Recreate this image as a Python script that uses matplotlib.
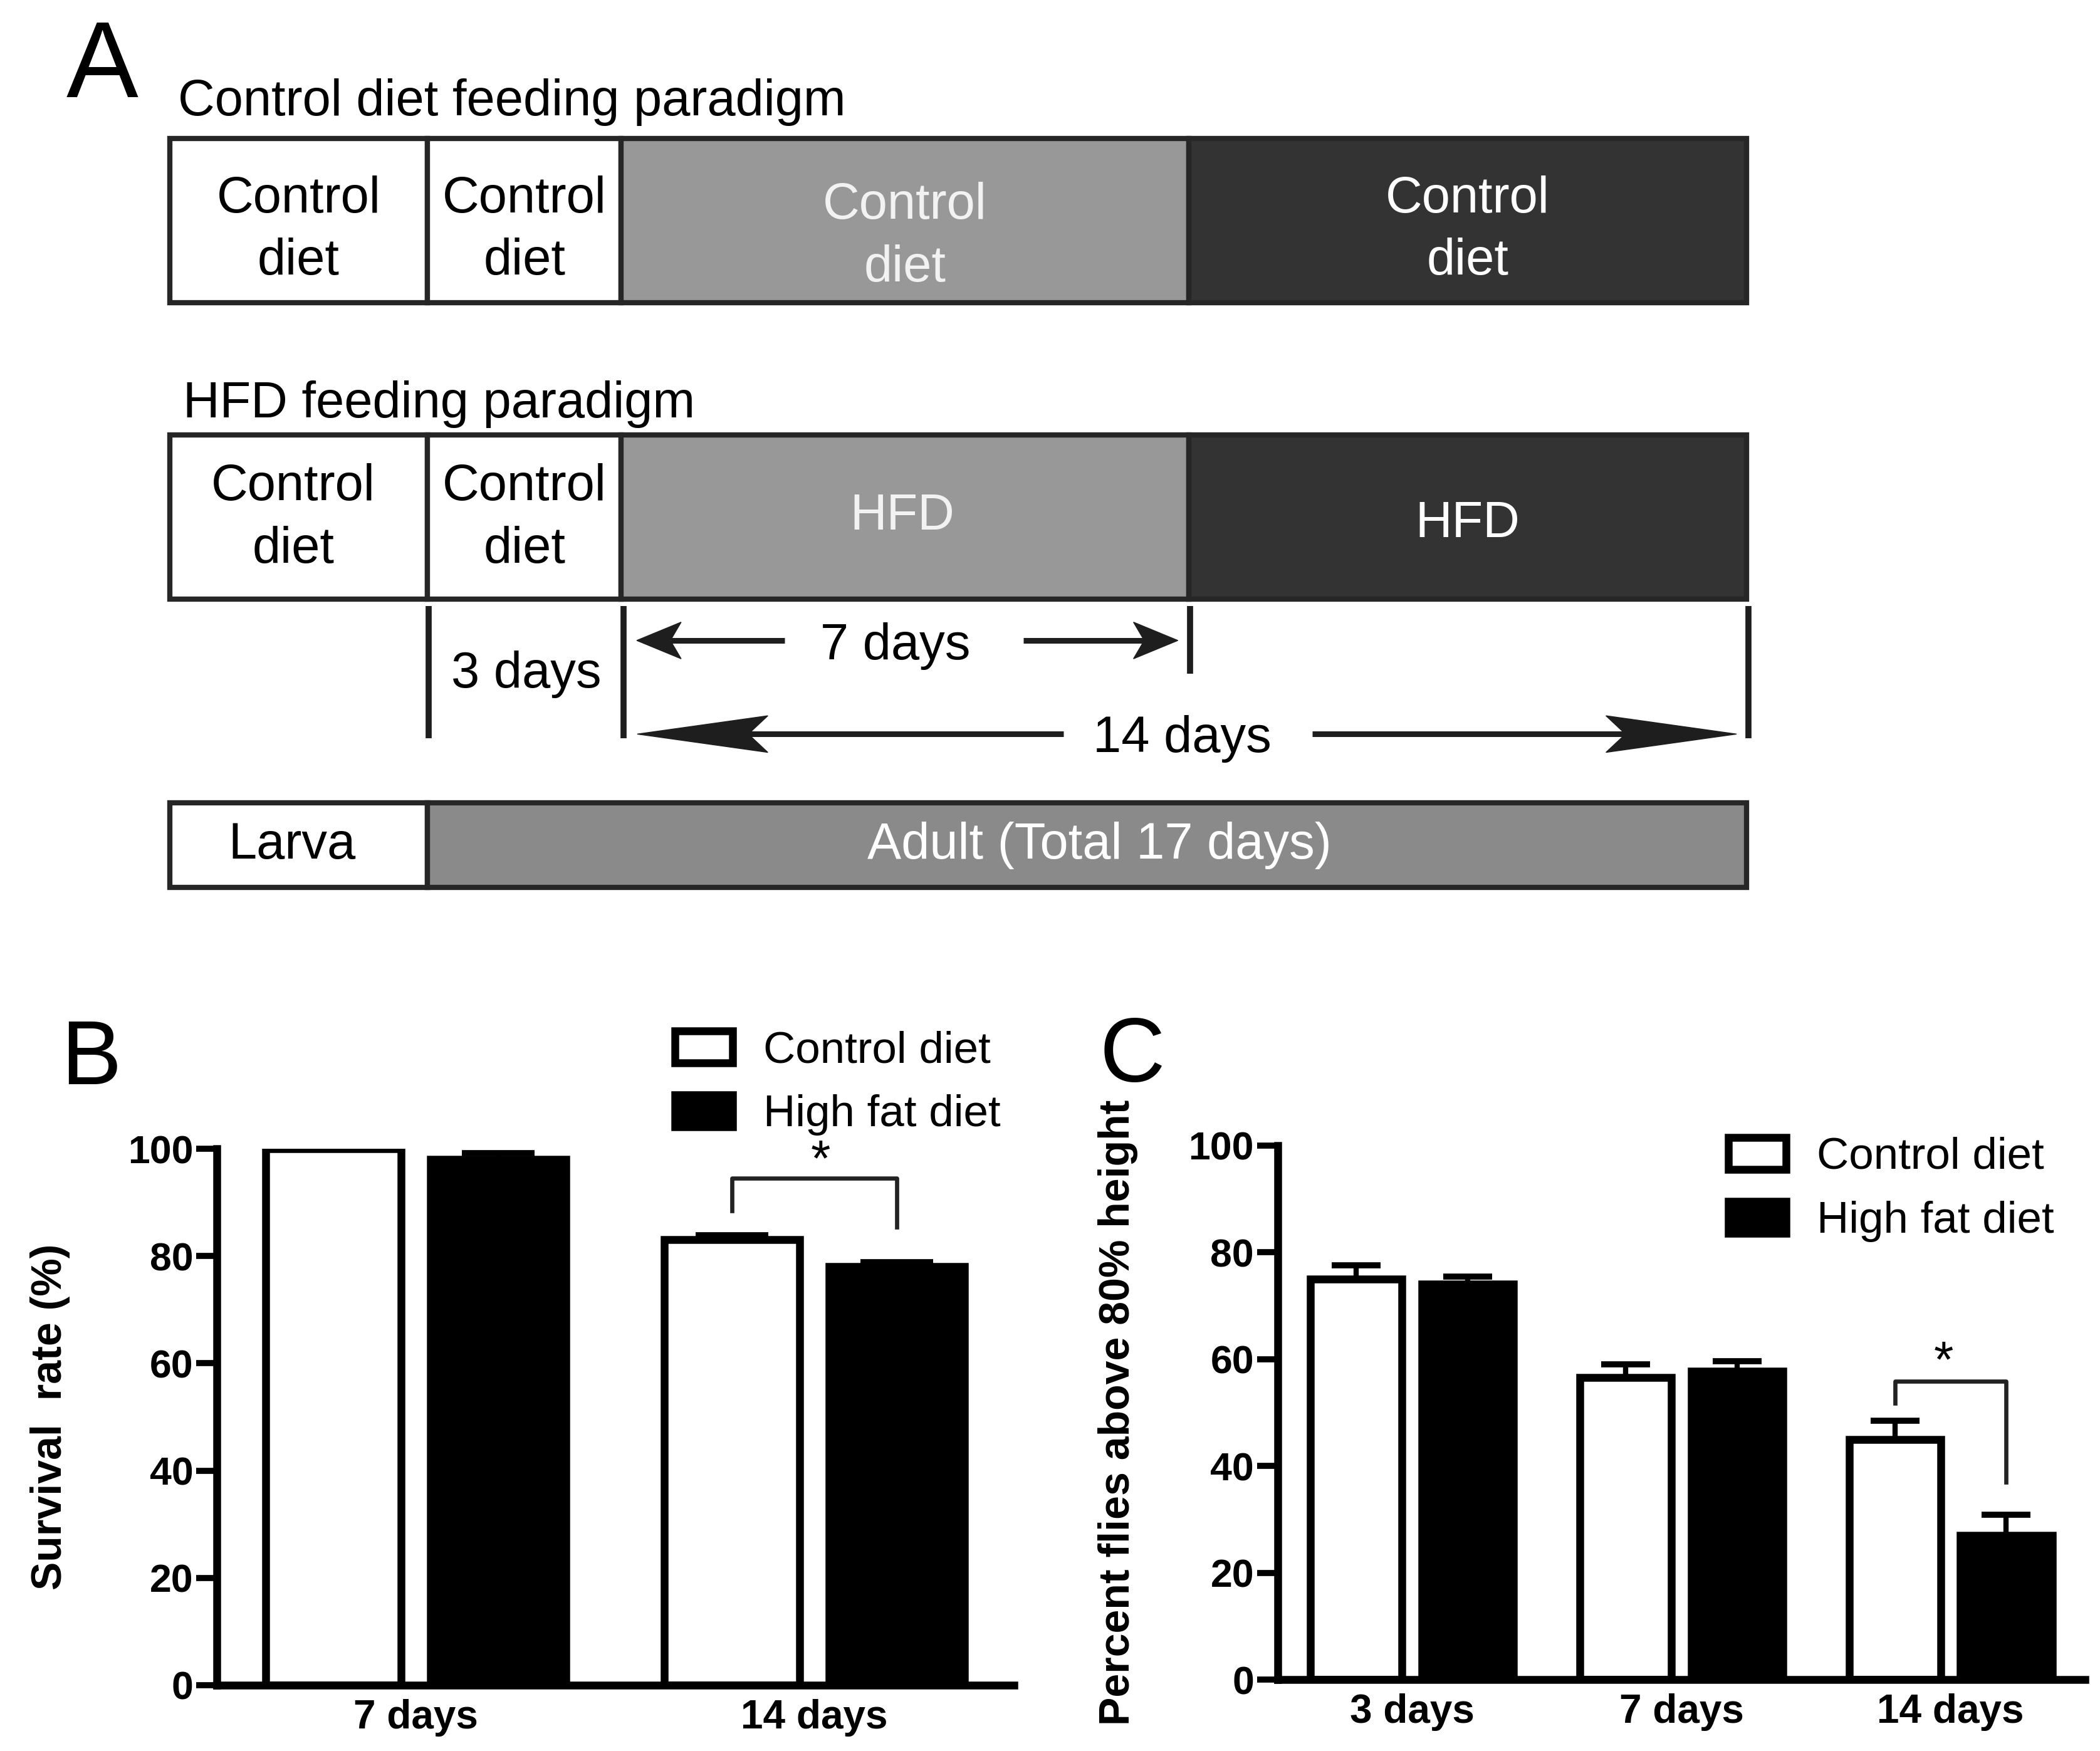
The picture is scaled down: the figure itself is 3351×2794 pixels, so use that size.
import matplotlib
matplotlib.use('Agg')
import matplotlib.pyplot as plt
from matplotlib.patches import Rectangle, Polygon
import numpy as np

plt.rcParams['font.family'] = ['Liberation Sans', 'DejaVu Sans']

# ---------------- data ----------------
# Panel B: survival rate (%)
b_categories = ['7 days', '14 days']
b_control = [100.0, 83.1]
b_control_err = [0.0, 0.8]
b_hfd = [98.1, 78.1]
b_hfd_err = [1.1, 0.8]

# Panel C: percent flies above 80% height
c_categories = ['3 days', '7 days', '14 days']
c_control = [75.0, 56.6, 44.9]
c_control_err = [2.6, 2.4, 3.6]
c_hfd = [74.1, 57.8, 27.0]
c_hfd_err = [1.4, 1.8, 3.9]

legend_labels = ['Control diet', 'High fat diet']
y_ticks = [0, 20, 40, 60, 80, 100]

# Panel A schematic texts
a_title_control = 'Control diet feeding paradigm'
a_title_hfd = 'HFD feeding paradigm'
a_row_control = ['Control\ndiet', 'Control\ndiet', 'Control\ndiet', 'Control\ndiet']
a_row_hfd = ['Control\ndiet', 'Control\ndiet', 'HFD', 'HFD']
a_stage_labels = ['Larva', 'Adult (Total 17 days)']
a_duration_labels = ['3 days', '7 days', '14 days']

# ---------------- layout (reference pixel grid 1560 x 1300) ----------------
W, H = 1560.0, 1300.0
seg_edges = [126, 317.5, 461.5, 883, 1297.5]
seg_colors = ['white', 'white', '#989898', '#333333']
seg_text_colors = ['black', 'black', '#f2f2f2', 'white']
row1_y = (103, 224.7)
row2_y = (323, 444.7)
row1_dy = [40, 40, 45, 40]
row2_dy = [34, 34, 9.5, 15]
row2_dx = [-4, 0, -2, 0]
stage_y = (596, 659)
stage_edges = [126, 317.5, 1297.5]
stage_dx = [-5, 9]
stage_colors = ['white', '#8a8a8a']
stage_text_colors = ['black', 'white']
EDGE = '#262626'

fig = plt.figure(figsize=(33.51, 27.94), dpi=100)
fig.patch.set_facecolor('white')

ov = fig.add_axes([0, 0, 1, 1])
ov.set_xlim(0, W)
ov.set_ylim(H, 0)
ov.axis('off')

A_FS = 58.5


def draw_row(ytop, ybot, labels, dys, dxs):
    ymid = (ytop + ybot) / 2
    for i in range(4):
        x0, x1 = seg_edges[i], seg_edges[i + 1]
        ov.add_patch(Rectangle((x0, ytop), x1 - x0, ybot - ytop, facecolor=seg_colors[i],
                               edgecolor=EDGE, lw=6))
        ov.text((x0 + x1) / 2 + dxs[i], ymid + dys[i], labels[i], ha='center', va='baseline',
                fontsize=A_FS, color=seg_text_colors[i], linespacing=1.4,
                multialignment='center')


ov.text(49, 72, 'A', fontsize=124, ha='left', va='baseline')
ov.text(132, 85.4, a_title_control, fontsize=A_FS, ha='left', va='baseline')
draw_row(*row1_y, a_row_control, row1_dy, [0, 0, 0, 0])
ov.text(136, 310, a_title_hfd, fontsize=A_FS, ha='left', va='baseline')
draw_row(*row2_y, a_row_hfd, row2_dy, row2_dx)

# duration markers
LC = '#1e1e1e'
for x, y0, y1 in [(318.2, 450, 548), (463.4, 450, 548), (884, 450, 500), (1299, 450, 548)]:
    ov.plot([x, x], [y0, y1], color=LC, lw=7, solid_capstyle='butt')


def stealth(tail, tip, y, length, half, notch, lw):
    d = 1 if tip > tail else -1
    back = tip - d * length
    nx = tip - d * (length - notch)
    ov.plot([tail, nx], [y, y], color=LC, lw=lw, solid_capstyle='butt')
    ov.add_patch(Polygon([(tip, y), (back, y - half), (nx, y), (back, y + half)],
                         closed=True, facecolor=LC, edgecolor=LC, lw=1))


ov.text(391, 510.6, a_duration_labels[0], fontsize=A_FS, ha='center', va='baseline')
stealth(583, 473, 475.5, 33, 13.6, 8, 6.5)
stealth(760, 875, 475.5, 33, 13.6, 8, 6.5)
ov.text(665, 489.5, a_duration_labels[1], fontsize=A_FS, ha='center', va='baseline')
stealth(790, 473.4, 545, 97, 13.6, 14.5, 6.5)
stealth(975, 1290, 545, 97, 13.6, 14.5, 6.5)
ov.text(878, 558.5, a_duration_labels[2], fontsize=A_FS, ha='center', va='baseline')

for i in range(2):
    x0, x1 = stage_edges[i], stage_edges[i + 1]
    ov.add_patch(Rectangle((x0, stage_y[0]), x1 - x0, stage_y[1] - stage_y[0],
                           facecolor=stage_colors[i], edgecolor=EDGE, lw=6))
    ov.text((x0 + x1) / 2 + stage_dx[i], (stage_y[0] + stage_y[1]) / 2 + 10,
            a_stage_labels[i], fontsize=A_FS, ha='center', va='baseline',
            color=stage_text_colors[i])

ov.text(45, 805, 'B', fontsize=104, ha='left', va='baseline')
ov.text(817, 803, 'C', fontsize=104, ha='left', va='baseline')

# ---------------- bar panels ----------------
BW = 0.34
OFF = 0.207


def bar_panel(rect, xlim, cats, ctl, ctl_err, hfd, hfd_err, capsize, ylabel, label_x,
              legend_anchor, bracket, star):
    ax = fig.add_axes(rect)
    ax.set_facecolor('none')
    x = np.arange(len(cats))
    b1 = ax.bar(x - OFF, ctl, BW, color='white', edgecolor='black', lw=9, zorder=2,
                label=legend_labels[0])
    b2 = ax.bar(x + OFF, hfd, BW, color='black', edgecolor='black', lw=9, zorder=2,
                label=legend_labels[1])
    ax.errorbar(x - OFF, ctl, yerr=[np.zeros(len(ctl)), ctl_err], fmt='none', ecolor='black',
                elinewidth=6, capsize=capsize, capthick=7, zorder=3)
    ax.errorbar(x + OFF, hfd, yerr=[np.zeros(len(hfd)), hfd_err], fmt='none', ecolor='black',
                elinewidth=6, capsize=capsize, capthick=7, zorder=3)
    ax.set_xlim(*xlim)
    ax.set_ylim(0, 100)
    ax.set_yticks(y_ticks)
    ax.set_xticks(x)
    ax.set_xticklabels(cats, fontsize=46, fontweight='bold')
    ax.set_yticklabels([str(t) for t in y_ticks], fontsize=45, fontweight='bold')
    for s in ['top', 'right']:
        ax.spines[s].set_visible(False)
    for s in ['left', 'bottom']:
        ax.spines[s].set_linewidth(9)
    ax.tick_params(axis='y', length=24, width=7, pad=3)
    ax.tick_params(axis='x', length=0, pad=16)
    ax.set_ylabel(ylabel, fontsize=49, fontweight='bold')
    ax.yaxis.set_label_coords(label_x, 0.5)
    (bx1, bx2, yl, yt, yr) = bracket
    ax.plot([bx1, bx1, bx2, bx2], [yl, yt, yt, yr], color='#222222', lw=4.8, clip_on=False,
            zorder=4)
    ax.text(star[0], star[1], '*', fontsize=58, ha='center', va='center')
    ax.legend(handles=[b1, b2], labels=legend_labels, loc='upper left',
              bbox_to_anchor=legend_anchor, bbox_transform=fig.transFigure, frameon=False,
              fontsize=51, handlelength=1.29, handleheight=0.74, handletextpad=0.7,
              labelspacing=0.51, borderpad=0, borderaxespad=0)
    return ax


axB = bar_panel([161 / W, 1 - 1251 / H, 592 / W, 398 / H], (-0.5, 1.5), b_categories,
                b_control, b_control_err, b_hfd, b_hfd_err, 42,
                'Survival  rate (%)', -0.184, (501.5 / W, 1 - 765 / H),
                (0.793, 1.207, 88.5, 94.5, 85.4), (1.015, 97.6))

axC = bar_panel([949 / W, 1 - 1247 / H, 600 / W, 396.5 / H], (-0.5, 2.5), c_categories,
                c_control, c_control_err, c_hfd, c_hfd_err, 28,
                'Percent flies above 80% height', -0.173, (1284 / W, 1 - 844 / H),
                (1.793, 2.207, 51.8, 55.9, 37.0), (1.975, 59.2))

fig.savefig('out.png', dpi=100, facecolor='white')
